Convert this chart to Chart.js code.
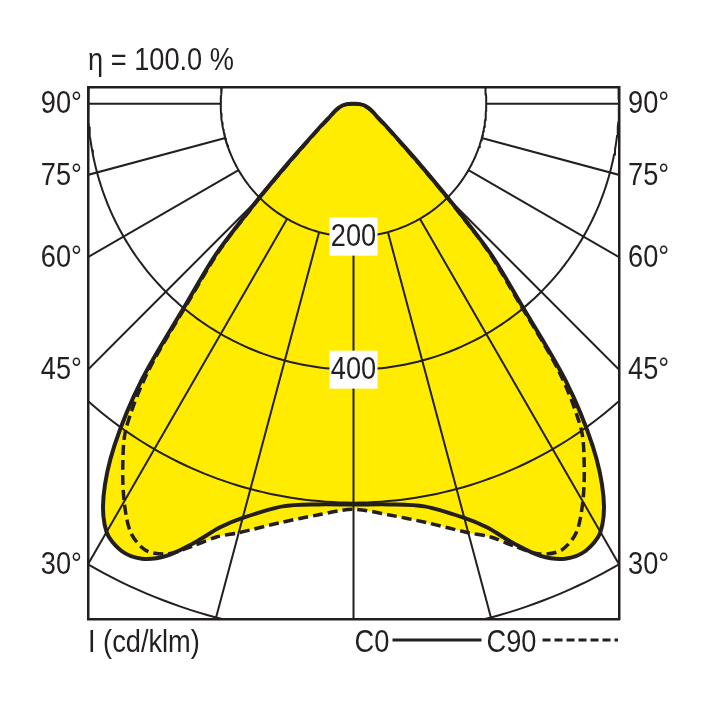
<!DOCTYPE html>
<html>
<head>
<meta charset="utf-8">
<script src="https://cdn.jsdelivr.net/npm/chart.js@4.4.0/dist/chart.umd.min.js"></script>
<style>
html, body { margin: 0; padding: 0; background: #fff; }
#wrap { width: 708px; height: 708px; position: relative; }
</style>
</head>
<body>
<div id="wrap"><canvas id="myChart"></canvas></div>
<script>
// Angulos gamma (grados desde el nadir) e intensidades en cd/klm
const gammaAngles = [0, 5, 10, 15, 17.5, 20, 22.5, 25, 27.5, 30, 32.5, 35, 37.5, 40, 42.5, 45, 47.5, 50, 55, 60, 70, 80, 85, 90];
const intensityC0 = [603, 605, 615, 645, 668, 703, 736, 755, 758, 744, 701, 628, 525, 390, 305, 203, 138, 99, 62, 43, 28, 17, 9, 0];
const intensityC90 = [610, 621, 640, 668, 683, 708, 733, 741, 727, 691, 647, 598, 510, 382, 298, 198, 133, 96, 60, 42, 27, 16, 8, 0];

// Rejilla
const gridRadii = [200, 400, 600, 800];
const gridAngles = [0, 15, 30, 45, 60, 75, 90];
const angleLabels = [90, 75, 60, 45, 30];
const radiusLabels = [200, 400];

const etaText = 'η = 100.0 %';
const unitText = 'I (cd/klm)';
const seriesNames = ['C0', 'C90'];

const dark = '#231f20';
const yellow = '#ffec00';
const font = '"Liberation Sans", Arial, sans-serif';

const rad = d => d * Math.PI / 180;

function contorno(intens) {
    const pts = [];
    for (let i = gammaAngles.length - 1; i >= 0; i--) {
        const g = rad(gammaAngles[i]);
        pts.push({ x: -intens[i] * Math.sin(g), y: -intens[i] * Math.cos(g) });
    }
    for (let i = 1; i < gammaAngles.length; i++) {
        const g = rad(gammaAngles[i]);
        pts.push({ x: intens[i] * Math.sin(g), y: -intens[i] * Math.cos(g) });
    }
    return pts;
}

function circulo(r) {
    const pts = [];
    for (let a = 0; a <= 360; a += 1) {
        pts.push({ x: r * Math.sin(rad(a)), y: -r * Math.cos(rad(a)) });
    }
    return pts;
}

const datasets = [];

datasets.push({
    label: seriesNames[0],
    data: contorno(intensityC0),
    showLine: true,
    borderColor: dark,
    borderWidth: 4,
    backgroundColor: yellow,
    fill: 'shape',
    tension: 0.3,
    pointRadius: 0,
    clip: 0
});
datasets.push({
    label: seriesNames[1],
    data: contorno(intensityC90),
    showLine: true,
    borderColor: dark,
    borderWidth: 3.5,
    borderDash: [10, 5],
    backgroundColor: yellow,
    fill: 'shape',
    tension: 0.3,
    pointRadius: 0,
    clip: 0
});

gridRadii.forEach(r => {
    datasets.push({
        data: circulo(r),
        showLine: true,
        borderColor: dark,
        borderWidth: 2,
        pointRadius: 0,
        fill: false,
        clip: 0
    });
});

gridAngles.forEach(a => {
    [-1, 1].forEach(side => {
        if (a === 0 && side === 1) return;
        const g = rad(a);
        datasets.push({
            data: [
                { x: side * gridRadii[0] * Math.sin(g), y: -gridRadii[0] * Math.cos(g) },
                { x: side * 1200 * Math.sin(g), y: -1200 * Math.cos(g) }
            ],
            showLine: true,
            borderColor: dark,
            borderWidth: 2,
            pointRadius: 0,
            fill: false,
            clip: 0
        });
    });
});

// texto estrecho (la fuente original es condensada)
function texto(ctx, str, x, y, align) {
    ctx.save();
    ctx.translate(x, y);
    ctx.scale(0.85, 1);
    ctx.textAlign = align;
    ctx.fillText(str, 0, 0);
    ctx.restore();
}

const textos = {
    id: 'textos',
    afterDraw(chart) {
        const { ctx, chartArea, scales } = chart;
        const sx = scales.x, sy = scales.y;
        ctx.save();
        ctx.fillStyle = dark;
        ctx.font = '32px ' + font;
        ctx.textBaseline = 'middle';

        texto(ctx, etaText, chartArea.left, chartArea.top - 26, 'left');

        angleLabels.forEach(a => {
            const yv = a === 90 ? 0 : -400 / Math.tan(rad(a));
            const py = sy.getPixelForValue(yv) + 1;
            texto(ctx, a + '°', chartArea.left - 6, py, 'right');
            texto(ctx, a + '°', chartArea.right + 9, py, 'left');
        });

        radiusLabels.forEach(r => {
            const px = sx.getPixelForValue(0);
            const py = sy.getPixelForValue(-r);
            ctx.fillStyle = '#fff';
            ctx.fillRect(px - 24, py - 19, 48, 38);
            ctx.fillStyle = dark;
            texto(ctx, String(r), px, py + 1, 'center');
        });

        const ly = chartArea.bottom + 24;
        texto(ctx, unitText, chartArea.left, ly, 'left');

        const x0 = sx.getPixelForValue(0) + 1;
        texto(ctx, seriesNames[0], x0, ly, 'left');
        texto(ctx, seriesNames[1], x0 + 132, ly, 'left');

        ctx.strokeStyle = dark;
        ctx.lineWidth = 3;
        ctx.beginPath();
        ctx.moveTo(x0 + 38, ly - 3);
        ctx.lineTo(x0 + 127, ly - 3);
        ctx.stroke();
        ctx.setLineDash([8, 4]);
        ctx.beginPath();
        ctx.moveTo(x0 + 188, ly - 3);
        ctx.lineTo(chartArea.right - 1, ly - 3);
        ctx.stroke();
        ctx.restore();
    }
};

const axisBase = {
    type: 'linear',
    ticks: { display: false },
    grid: { display: false, drawTicks: false },
    border: { color: dark, width: 2.5 }
};

const config = {
    type: 'scatter',
    data: { datasets: datasets },
    options: {
        responsive: true,
        maintainAspectRatio: false,
        animation: false,
        layout: { padding: { left: 88, top: 87, right: 89, bottom: 89 } },
        scales: {
            x: Object.assign({}, axisBase, { position: 'bottom', min: -400, max: 400 }),
            x2: Object.assign({}, axisBase, { position: 'top', min: -400, max: 400 }),
            y: Object.assign({}, axisBase, { position: 'left', min: -775, max: 25 }),
            y2: Object.assign({}, axisBase, { position: 'right', min: -775, max: 25 })
        },
        plugins: {
            legend: { display: false },
            tooltip: { enabled: false },
            filler: { drawTime: 'beforeDatasetsDraw' }
        }
    },
    plugins: [textos]
};

new Chart(document.getElementById('myChart'), config);
</script>
</body>
</html>
